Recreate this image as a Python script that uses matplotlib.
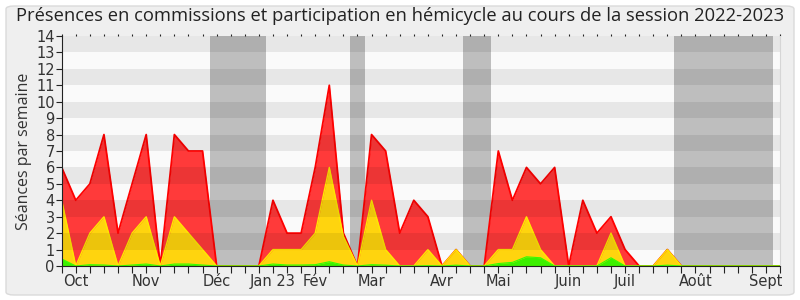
import matplotlib
matplotlib.use("Agg")
import matplotlib.pyplot as plt
from matplotlib.patches import FancyBboxPatch
import numpy as np

# Weekly data (week index 0..51)
red = [6, 4, 5, 8, 2, 5, 8, 0, 8, 7, 7, 0, 0, 0, 0, 4, 2, 2, 6, 11,
       2, 0, 8, 7, 2, 4, 3, 0, 1, 0, 0, 7, 4, 6, 5, 6, 0, 4, 2, 3,
       1, 0, 0, 1, 0, 0, 0, 0, 0, 0, 0, 0]
yellow = [4, 0, 2, 3, 0, 2, 3, 0, 3, 2, 1, 0, 0, 0, 0, 1, 1, 1, 2, 6,
          1.8, 0, 4, 1, 0, 0, 1, 0, 1, 0, 0, 1, 1, 3, 1, 0, 0, 0, 0, 2,
          0, 0, 0, 1, 0, 0, 0, 0, 0, 0, 0, 0]
green = [0.43, 0, 0.08, 0.06, 0, 0.06, 0.12, 0, 0.12, 0.12, 0.06, 0, 0, 0, 0, 0.12, 0.06, 0.06, 0.08, 0.26,
         0.06, 0, 0.08, 0.05, 0, 0, 0.02, 0, 0.05, 0, 0, 0.15, 0.22, 0.56, 0.5, 0, 0, 0, 0, 0.5,
         0, 0, 0, 0.05, 0, 0, 0, 0, 0, 0, 0, 0]
vacations = [(10.5, 14.5), (20.5, 21.5), (28.5, 30.5), (43.5, 50.5)]
month_labels = ["Oct", "Nov", "Déc", "Jan 23", "Fév", "Mar", "Avr", "Mai", "Juin", "Juil", "Août", "Sept"]
month_pos = [1, 6, 11, 15, 18, 22, 27, 31, 36, 40, 45, 50]

x = np.arange(len(red))

fig = plt.figure(figsize=(8, 3), dpi=100, facecolor="white")
bg = FancyBboxPatch((6 / 800, 5 / 300), 788 / 800, 289 / 300,
                    boxstyle="round,pad=0,rounding_size=0.01",
                    transform=fig.transFigure, facecolor="#efefef",
                    edgecolor="#dadada", linewidth=1.0, zorder=-10)
fig.patches.append(bg)

ax = fig.add_axes([61.7 / 800, 34 / 300, (780 - 61.7) / 800, (266 - 36) / 300])
ax.set_facecolor("#fafafa")
ax.set_xlim(0, 51)
ax.set_ylim(0, 14)

for a, b in vacations:
    ax.axvspan(a, b, color="#bebebe", lw=0, zorder=1)

ax.fill_between(x, 0, red, color="#ff3a3a", lw=0, zorder=2)
ax.plot(x, red, color="#ff0000", lw=1.3, zorder=2.1)
ax.fill_between(x, 0, yellow, color="#ffd40e", lw=0, zorder=3)
ax.plot(x, yellow, color="#ffe800", lw=1.0, zorder=3.1)
ax.fill_between(x, 0, green, color="#3cf000", lw=0, zorder=4)
ax.plot(x, green, color="#33ff00", lw=0.8, zorder=4.1)

for k in range(1, 14, 2):
    ax.axhspan(k, k + 1, color="black", alpha=0.075, lw=0, zorder=5)

ax.spines["top"].set_visible(False)
ax.spines["right"].set_color("#d6d6d6")
ax.spines["left"].set_color("#222222")
ax.spines["bottom"].set_color("#222222")
ax.spines["left"].set_zorder(6)
ax.spines["bottom"].set_zorder(6)

ax.set_xticks(x, minor=True)
ax.set_xticks(month_pos)
ax.set_xticklabels(month_labels)
ax.tick_params(axis="x", which="both", length=5, width=0.8, color="#222222",
               top=True, labeltop=False)
ax.tick_params(axis="x", which="major", labelsize=10.5, labelcolor="#333333", pad=1)
ax.set_yticks(range(0, 15))
ax.tick_params(axis="y", length=4, width=0.8, color="#222222", labelsize=10.5,
               labelcolor="#333333", pad=1)
for t in ax.xaxis.get_major_ticks() + ax.xaxis.get_minor_ticks():
    t.tick2line.set_markersize(1.5)

ax.set_ylabel("Séances par semaine", fontsize=11.5, family="Open Sans",
              color="#333333", labelpad=3)
fig.text(0.5, 1 - 16 / 300, "Présences en commissions et participation en hémicycle au cours de la session 2022-2023",
         ha="center", va="center", fontsize=13.2, family="Open Sans", color="#222222")

fig.savefig("out.png", dpi=100, facecolor="white")
